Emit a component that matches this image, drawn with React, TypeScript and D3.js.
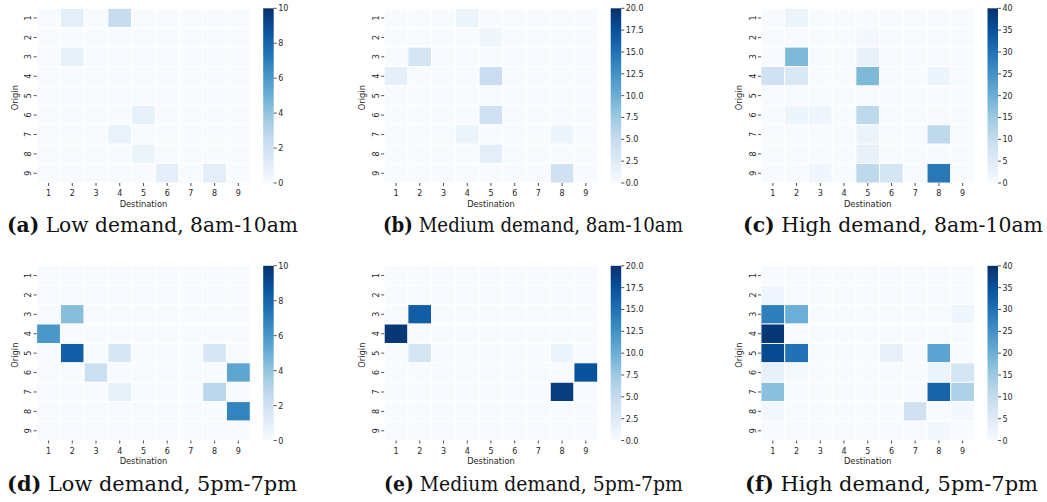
import React, { useMemo } from 'react';
import * as d3 from 'd3';

const origins = [1, 2, 3, 4, 5, 6, 7, 8, 9];
const destinations = [1, 2, 3, 4, 5, 6, 7, 8, 9];

// rows = origin 1..9, columns = destination 1..9
const lowMorning = [
  [0, 1.0, 0, 2.4, 0, 0, 0, 0, 0],
  [0, 0, 0, 0, 0, 0, 0, 0, 0],
  [0, 0.8, 0, 0, 0, 0, 0, 0, 0],
  [0, 0, 0, 0, 0, 0, 0, 0, 0],
  [0, 0, 0, 0, 0, 0, 0, 0, 0],
  [0, 0, 0, 0, 0.8, 0, 0, 0, 0],
  [0, 0, 0, 0.7, 0, 0, 0, 0, 0],
  [0, 0, 0, 0, 0.6, 0, 0, 0, 0],
  [0, 0, 0, 0, 0, 0.9, 0, 1.0, 0],
];
const medMorning = [
  [0, 0, 0, 1.2, 0, 0, 0, 0, 0],
  [0, 0, 0, 0, 0.8, 0, 0, 0, 0],
  [0, 3.5, 0, 0, 0, 0, 0, 0, 0],
  [1.8, 0, 0, 0, 4.5, 0, 0, 0, 0],
  [0, 0, 0, 0, 0, 0, 0, 0, 0],
  [0, 0, 0, 0, 4.2, 0, 0, 0, 0],
  [0, 0, 0, 1.2, 0, 0, 0, 1.0, 0],
  [0, 0, 0, 0, 2.0, 0, 0, 0, 0],
  [0, 0, 0, 0, 0, 0, 0, 4.0, 0],
];
const highMorning = [
  [0, 2.5, 0, 0, 0, 0, 0, 0, 0],
  [0, 0, 0, 0, 0.8, 0, 0, 0, 0],
  [0, 18, 0, 0, 3, 0, 0, 0, 0],
  [8, 6, 0, 0, 18, 0, 0, 2, 0],
  [0, 0, 0, 0, 0, 0, 0, 0, 0],
  [0, 2, 1.8, 0, 11, 0, 0, 0, 0],
  [0, 0, 0, 0, 2.5, 0, 0, 11, 0],
  [0, 0, 0, 0, 3, 0, 0, 0, 0],
  [0, 0, 1.5, 0, 11, 7, 0, 29, 0],
];
const lowEvening = [
  [0, 0, 0, 0, 0, 0, 0, 0, 0],
  [0, 0, 0, 0, 0, 0, 0, 0, 0],
  [0, 4.3, 0, 0, 0, 0, 0, 0, 0],
  [6, 0, 0, 0, 0, 0, 0, 0, 0],
  [0, 8.2, 0, 1.6, 0, 0, 0, 1.6, 0],
  [0, 0, 2.2, 0, 0, 0, 0, 0, 5.4],
  [0, 0, 0, 0.8, 0, 0, 0, 2.8, 0],
  [0, 0, 0, 0, 0, 0, 0, 0, 6.8],
  [0, 0, 0, 0, 0, 0, 0, 0, 0],
];
const medEvening = [
  [0, 0, 0, 0, 0, 0, 0, 0, 0],
  [0, 0, 0, 0, 0, 0, 0, 0, 0],
  [0, 16.5, 0, 0, 0, 0, 0, 0, 0],
  [19.5, 0, 0, 0, 0, 0, 0, 0, 0],
  [0, 3.5, 0, 0, 0, 0, 0, 1.2, 0],
  [0, 0, 0, 0, 0, 0, 0, 0, 17.5],
  [0, 0, 0, 0, 0, 0, 0, 19, 0],
  [0, 0, 0, 0, 0, 0, 0, 0, 0],
  [0, 0, 0, 0, 0, 0, 0, 0, 0],
];
const highEvening = [
  [0, 0, 0, 0, 0, 0, 0, 0, 0],
  [1.5, 0, 0, 0, 0, 0, 0, 0, 0],
  [28, 20, 0, 0, 0, 0, 0, 0, 1.5],
  [39, 0, 0, 0, 0, 0, 0, 0, 0],
  [36, 30, 0, 0, 0, 3, 0, 22, 0],
  [3, 0.6, 0, 0, 0, 0, 0, 2.5, 7],
  [17, 0, 0, 0, 0, 0, 0, 32, 13],
  [1.2, 0, 0, 0, 0, 0, 8, 0, 1],
  [0, 0, 0, 0, 0, 0, 0, 1, 0],
];

const lowTicks = [0, 2, 4, 6, 8, 10];
const medTicks = [0, 2.5, 5, 7.5, 10, 12.5, 15, 17.5, 20];
const highTicks = [0, 5, 10, 15, 20, 25, 30, 35, 40];

const BLUES = ['#f7fbff', '#deebf7', '#c6dbef', '#9ecae1', '#6baed6', '#4292c6', '#2171b5', '#08519c', '#08306b'];

const TXT = '#262626';
const SANS = 'DejaVu Sans, sans-serif';

function Heatmap({ id, left, top, data, vmax, ticks, fmt, tag, caption, capX0, capX1, capY }) {
  const W = 213.5;
  const H = 174.7;
  const x = d3.scaleBand().domain(destinations.map(String)).range([left, left + W]);
  const y = d3.scaleBand().domain(origins.map(String)).range([top, top + H]);
  const color = useMemo(
    () =>
      d3.scaleLinear<string>()
        .domain(BLUES.map((_, i) => (i / (BLUES.length - 1)) * vmax))
        .range(BLUES)
        .clamp(true),
    [vmax]
  );
  const cbX = left + W + 13;
  const cbW = 10.5;
  const cbY = d3.scaleLinear().domain([0, vmax]).range([top + H, top]);

  return (
    <g>
      <defs>
        <linearGradient id={id} x1="0" y1="1" x2="0" y2="0">
          {BLUES.map((c, i) => (
            <stop key={i} offset={i / (BLUES.length - 1)} stopColor={c} />
          ))}
        </linearGradient>
      </defs>
      {data.map((row, r) =>
        row.map((v, c) => (
          <rect
            key={r + '-' + c}
            x={x(String(c + 1))}
            y={y(String(r + 1))}
            width={x.bandwidth()}
            height={y.bandwidth()}
            fill={color(v)}
            stroke="#fff"
            strokeWidth={0.9}
          />
        ))
      )}
      {destinations.map((d) => {
        const cx = x(String(d)) + x.bandwidth() / 2;
        return (
          <g key={'xt' + d}>
            <line x1={cx} x2={cx} y1={top + H} y2={top + H + 3} stroke={TXT} strokeWidth={0.8} />
            <text x={cx} y={top + H + 13} fontSize={8} fontFamily={SANS} fill={TXT} textAnchor="middle">{d}</text>
          </g>
        );
      })}
      {origins.map((o) => {
        const cy = y(String(o)) + y.bandwidth() / 2;
        return (
          <g key={'yt' + o}>
            <line x1={left - 3} x2={left} y1={cy} y2={cy} stroke={TXT} strokeWidth={0.8} />
            <text
              transform={`translate(${left - 5.5},${cy}) rotate(-90)`}
              fontSize={8}
              fontFamily={SANS}
              fill={TXT}
              textAnchor="middle"
            >
              {o}
            </text>
          </g>
        );
      })}
      <text x={left + W / 2} y={top + H + 23.5} fontSize={8.3} fontFamily={SANS} fill={TXT} textAnchor="middle">
        Destination
      </text>
      <text
        transform={`translate(${left - 19},${top + H / 2 + 2}) rotate(-90)`}
        fontSize={8.3}
        fontFamily={SANS}
        fill={TXT}
        textAnchor="middle"
      >
        Origin
      </text>
      <rect x={cbX} y={top} width={cbW} height={H} fill={`url(#${id})`} />
      {ticks.map((t) => (
        <g key={'ct' + t}>
          <line x1={cbX + cbW} x2={cbX + cbW + 3} y1={cbY(t)} y2={cbY(t)} stroke={TXT} strokeWidth={0.8} />
          <text x={cbX + cbW + 4.5} y={cbY(t) + 3} fontSize={8} fontFamily={SANS} fill={TXT}>
            {fmt(t)}
          </text>
        </g>
      ))}
      <text
        x={capX0}
        y={capY}
        fontSize={19.5}
        fontFamily="DejaVu Serif, serif"
        fill="#111"
        textLength={capX1 - capX0}
        lengthAdjust="spacingAndGlyphs"
      >
        <tspan fontWeight="bold">{tag}</tspan>
        <tspan> {caption}</tspan>
      </text>
    </g>
  );
}

const intFmt = (t) => String(t);
const decFmt = (t) => t.toFixed(1);

export default function App() {
  const topRow = 8.3;
  const botRow = 265.8;
  return (
    <div style={{ position: 'absolute', left: 0, top: 0 }}>
      <svg width={1047} height={502} style={{ display: 'block', background: '#fff' }}>
        <Heatmap id="ga" left={36.7} top={topRow} data={lowMorning} vmax={10} ticks={lowTicks} fmt={intFmt}
          tag="(a)" caption="Low demand, 8am-10am" capX0={7} capX1={298} capY={232} />
        <Heatmap id="gb" left={384.2} top={topRow} data={medMorning} vmax={20} ticks={medTicks} fmt={decFmt}
          tag="(b)" caption="Medium demand, 8am-10am" capX0={383} capX1={683} capY={232} />
        <Heatmap id="gc" left={761} top={topRow} data={highMorning} vmax={40} ticks={highTicks} fmt={intFmt}
          tag="(c)" caption="High demand, 8am-10am" capX0={743} capX1={1043} capY={232} />
        <Heatmap id="gd" left={36.7} top={botRow} data={lowEvening} vmax={10} ticks={lowTicks} fmt={intFmt}
          tag="(d)" caption="Low demand, 5pm-7pm" capX0={7} capX1={297} capY={491} />
        <Heatmap id="ge" left={384.2} top={botRow} data={medEvening} vmax={20} ticks={medTicks} fmt={decFmt}
          tag="(e)" caption="Medium demand, 5pm-7pm" capX0={384} capX1={683} capY={491} />
        <Heatmap id="gf" left={761} top={botRow} data={highEvening} vmax={40} ticks={highTicks} fmt={intFmt}
          tag="(f)" caption="High demand, 5pm-7pm" capX0={745} capX1={1038} capY={491} />
      </svg>
    </div>
  );
}
